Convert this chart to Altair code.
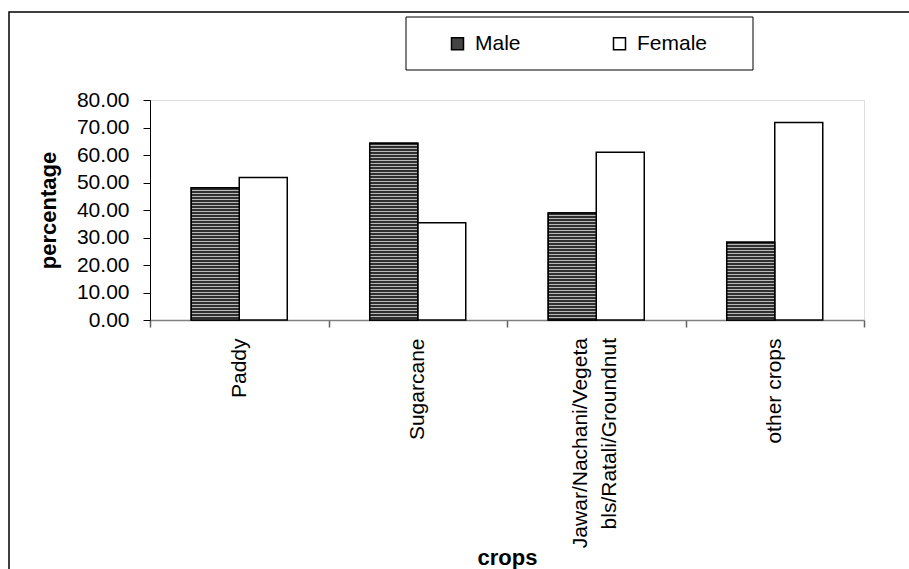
import altair as alt
import pandas as pd

crops = ["Paddy", "Sugarcane", "Jawar/Nachani/Vegetabls/Ratali/Groundnut", "other crops"]
male = [48.1, 64.3, 38.9, 28.3]
female = [51.8, 35.4, 61.0, 71.8]
genders = ["Male", "Female"]
y_ticks = [0, 10, 20, 30, 40, 50, 60, 70, 80]

rows = []
for c, m, f in zip(crops, male, female):
    rows.append({"crop": c, "gender": "Male", "value": m})
    rows.append({"crop": c, "gender": "Female", "value": f})
df = pd.DataFrame(rows)

W, H = 714, 220
YMAX = 80
FONT = "Liberation Sans"
LONG = "length(datum.crop) > 20"

x_enc = alt.X("crop:N", sort=crops, scale=alt.Scale(paddingInner=0, paddingOuter=0),
              axis=alt.Axis(title="crops", labelAngle=-90, labelAlign="right", labelBaseline="middle",
                            labelFontSize=21, labelFont=FONT, labelColor="black", labelPadding=11,
                            labelLimit=400,
                            labelExpr="length(datum.label) > 20 ? '' : datum.label",
                            tickBand="extent", tickSize=7, tickColor="#606060", tickWidth=1.5,
                            domainColor="#808080", domainWidth=1.5,
                            titleFontSize=22, titleFont=FONT, titleFontWeight="bold", titleColor="black",
                            titleY=244, titleBaseline="alphabetic"))
xo_enc = alt.XOffset("gender:N", sort=genders, scale=alt.Scale(domain=genders, paddingInner=0, paddingOuter=0.859))
y_enc = alt.Y("value:Q", scale=alt.Scale(domain=[0, YMAX], nice=False),
              axis=alt.Axis(title="percentage", values=y_ticks, tickCount=9, format=".2f", grid=False,
                            labelOverlap=False,
                            labelFontSize=21, labelFont=FONT, labelColor="black", labelPadding=14,
                            tickSize=7, tickColor="black", domainColor="black",
                            titleFontSize=22, titleFont=FONT, titleFontWeight="bold", titleColor="black",
                            titleX=-102, titleBaseline="middle", titleAlign="center"))

base = alt.Chart(df).mark_bar(stroke="black", strokeWidth=1.5).encode(
    x=x_enc, xOffset=xo_enc, y=y_enc,
    fill=alt.Fill("gender:N", sort=genders,
                  scale=alt.Scale(domain=genders, range=["#444444", "#ffffff"]),
                  legend=alt.Legend(title=None, orient="none", legendX=256, legendY=-83,
                                    direction="horizontal", padding=16,
                                    symbolType="square", symbolSize=144, symbolStrokeColor="black",
                                    symbolStrokeWidth=1.5, symbolOffset=25, labelOffset=7,
                                    columnPadding=63, labelFontSize=21, labelFont=FONT,
                                    labelColor="black")),
)


def stripes(h, period=3.0, dark=2.0):
    stops = []
    k = 0
    while k * period < h:
        o0 = k * period / h
        o1 = min((k * period + dark) / h, 1)
        o2 = min((k + 1) * period / h, 1)
        stops += [{"offset": o0, "color": "#303030"}, {"offset": o1, "color": "#303030"},
                  {"offset": o1, "color": "#b8b8b8"}, {"offset": o2, "color": "#b8b8b8"}]
        k += 1
    return {"gradient": "linear", "x1": 0, "y1": 0, "x2": 0, "y2": 1, "stops": stops}


layers = [base]
for c, m in zip(crops, male):
    h = m * H / YMAX
    layers.append(
        alt.Chart(df).transform_filter(
            (alt.datum.crop == c) & (alt.datum.gender == "Male")
        ).mark_bar(stroke="black", strokeWidth=1.5, fill=stripes(h)).encode(
            x=x_enc, xOffset=xo_enc, y=y_enc
        )
    )

# two-line category label (centred on its band)
long_label = alt.Chart(df).transform_filter(
    f"{LONG} && datum.gender == 'Male'"
).transform_calculate(
    lbl="substring(datum.crop, 0, 20) + '\\n' + substring(datum.crop, 20)"
).mark_text(angle=270, align="right", baseline="middle", dy=-15, lineHeight=29, lineBreak="\n",
            fontSize=21, font=FONT, color="black").encode(
    x=x_enc, text="lbl:N", y=alt.value(H + 18)
)
layers.append(long_label)

# outer chart frame and legend frame
frame = alt.Chart(alt.Data(values=[{}])).mark_rect(fill=None, stroke="black", strokeWidth=1.5).encode(
    x=alt.value(-141), x2=alt.value(W + 300), y=alt.value(-88), y2=alt.value(H + 400)
)
legend_box = alt.Chart(alt.Data(values=[{}])).mark_rect(fill=None, stroke="black", strokeWidth=1).encode(
    x=alt.value(256), x2=alt.value(603), y=alt.value(-83), y2=alt.value(-30)
)
layers += [frame, legend_box]

chart = alt.layer(*layers).properties(
    width=W, height=H,
    autosize=alt.AutoSizeParams(type="none"),
    padding={"left": 150, "top": 100, "right": 45, "bottom": 249},
).configure_view(stroke=None).configure(background="white")

chart.save("out.html", embed_options={"renderer": "svg", "actions": False})
